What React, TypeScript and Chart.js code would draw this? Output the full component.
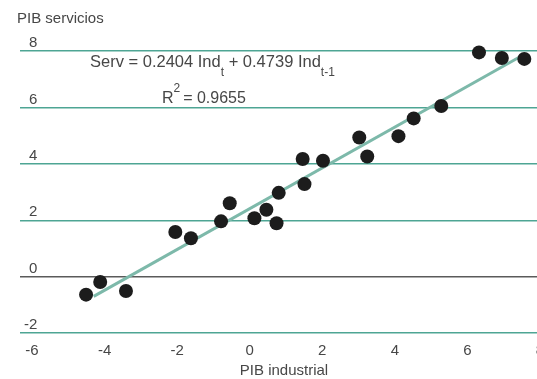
import React, { useEffect, useRef } from "react";
import { Chart, registerables } from "chart.js";

Chart.register(...registerables);

// Data
const pibIndustrial: number[] = [
  -4.51, -4.12, -3.41, -2.05, -1.62, -0.79, -0.55, 0.13, 0.46, 0.74, 0.8,
  1.51, 1.46, 2.02, 3.02, 3.24, 4.1, 4.52, 5.28, 6.32, 6.95, 7.57,
];
const pibServicios: number[] = [
  -0.64, -0.19, -0.51, 1.58, 1.36, 1.96, 2.6, 2.07, 2.37, 1.89, 2.97,
  3.28, 4.17, 4.11, 4.93, 4.26, 4.98, 5.61, 6.05, 7.95, 7.75, 7.72,
];
const fitX: number[] = [-4.3, 7.5];
const fitY: number[] = [-0.7, 7.83];
const xTicks: number[] = [-6, -4, -2, 0, 2, 4, 6, 8];
const yTicks: number[] = [-2, 0, 2, 4, 6, 8];

const yTitle = "PIB servicios";
const xTitle = "PIB industrial";
const eqParts = ["Serv = 0.2404 Ind", "t", " + 0.4739 Ind", "t-1"];
const r2Parts = ["R", "2", " = 0.9655"];

const FONT = "'Liberation Sans', Arial, sans-serif";
const TEXT = "#474747";

const textPlugin = {
  id: "annotText",
  afterDraw(chart: any) {
    const ctx = chart.ctx as CanvasRenderingContext2D;
    ctx.save();
    ctx.fillStyle = TEXT;
    ctx.textBaseline = "middle";
    ctx.textAlign = "left";
    // y title
    ctx.font = `15px ${FONT}`;
    ctx.fillText(yTitle, 17, 19);
    // x title
    ctx.textAlign = "center";
    ctx.fillText(xTitle, 284, 371);
    ctx.textAlign = "left";
    ctx.textBaseline = "alphabetic";
    // equation
    let x = 90;
    const y = 67;
    eqParts.forEach((p, i) => {
      const sub = i % 2 === 1;
      ctx.font = sub ? `12px ${FONT}` : `16.5px ${FONT}`;
      ctx.fillText(p, x, sub ? y + 9 : y);
      x += ctx.measureText(p).width;
    });
    // R^2
    x = 162;
    const y2 = 103;
    r2Parts.forEach((p, i) => {
      const sup = i === 1;
      ctx.font = sup ? `12px ${FONT}` : `16px ${FONT}`;
      ctx.fillText(p, x, sup ? y2 - 11 : y2);
      x += ctx.measureText(p).width - (i === 1 ? 1.5 : 0);
    });
    ctx.restore();
  },
};

export default function App() {
  const ref = useRef<HTMLCanvasElement>(null);
  useEffect(() => {
    if (!ref.current) return;
    const points = pibIndustrial.map((v, i) => ({ x: v, y: pibServicios[i] }));
    const line = fitX.map((v, i) => ({ x: v, y: fitY[i] }));
    const chart = new Chart(ref.current, {
      type: "scatter",
      data: {
        datasets: [
          {
            label: "obs",
            data: points,
            backgroundColor: "#1c1c1c",
            borderWidth: 0,
            pointRadius: 7,
            pointHoverRadius: 7,
            clip: false as any,
            order: 0,
          },
          {
            type: "line" as any,
            label: "fit",
            data: line,
            borderColor: "#7db9aa",
            borderWidth: 3,
            pointRadius: 0,
            fill: false,
            order: 1,
          },
        ],
      },
      options: {
        responsive: false,
        animation: false,
        devicePixelRatio: 1,
        layout: { padding: { left: 12, top: 51, right: 0, bottom: 18 } },
        plugins: {
          legend: { display: false },
          tooltip: { enabled: false },
        },
        scales: {
          x: {
            type: "linear",
            min: -6.331,
            max: 8.36,
            afterBuildTicks: (axis: any) => {
              axis.ticks = xTicks.map((v) => ({ value: v }));
            },
            grid: { display: false },
            border: { display: false },
            ticks: {
              autoSkip: false,
              maxRotation: 0,
              padding: 1,
              color: TEXT,
              font: { family: FONT, size: 15 },
            },
          },
          y: {
            type: "linear",
            min: -2,
            max: 8,
            afterBuildTicks: (axis: any) => {
              axis.ticks = yTicks.map((v) => ({ value: v }));
            },
            grid: {
              drawTicks: false,
              lineWidth: 1.4,
              color: (c: any) => (c.tick && c.tick.value === 0 ? "#5a5a5a" : "#4ea594"),
            },
            border: { display: false },
            ticks: {
              mirror: true,
              crossAlign: "far",
              padding: 4,
              labelOffset: -8,
              color: TEXT,
              font: { family: FONT, size: 15 },
            },
          },
        },
      },
      plugins: [textPlugin],
    });
    return () => chart.destroy();
  }, []);
  return (
    <div
      style={{
        position: "fixed",
        left: 0,
        top: 0,
        width: 537,
        height: 379,
        overflow: "hidden",
        background: "#fff",
      }}
    >
      <canvas ref={ref} width={560} height={379} style={{ display: "block", width: 560, height: 379 }} />
    </div>
  );
}
